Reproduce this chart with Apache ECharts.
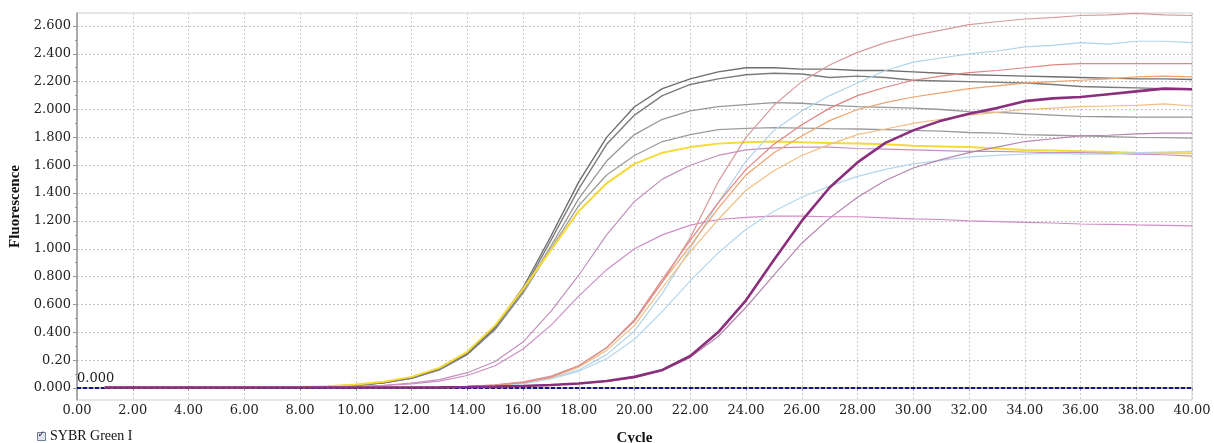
<!DOCTYPE html>
<html>
<head>
<meta charset="utf-8">
<script src="https://cdn.jsdelivr.net/npm/echarts@6/dist/echarts.min.js"></script>
<style>
html, body { margin: 0; padding: 0; background: #fff; }
#chart { width: 1214px; height: 443px; }
</style>
</head>
<body>
<div id="chart"></div>
<script>
// cycles 1..40
var cycles = [];
for (var c = 1; c <= 40; c++) cycles.push(c);

var xTickLabels = ['0.00','2.00','4.00','6.00','8.00','10.00','12.00','14.00','16.00','18.00','20.00',
	'22.00','24.00','26.00','28.00','30.00','32.00','34.00','36.00','38.00','40.00'];
var yTickValues = [0, 0.2, 0.4, 0.6, 0.8, 1.0, 1.2, 1.4, 1.6, 1.8, 2.0, 2.2, 2.4, 2.6];
var yTickLabels = ['0.000','0.20','0.400','0.600','0.800','1.000','1.200','1.400','1.600','1.800','2.000','2.200','2.400','2.600'];
var threshold = 0.000;

// early group
var gray1 = [0.008,0.006,0.006,0.007,0.006,0.006,0.007,0.008,0.012,0.022,0.04,0.075,0.14,0.25,0.44,0.72,1.09,1.48,1.80,2.02,
	2.15,2.22,2.27,2.30,2.30,2.29,2.29,2.28,2.28,2.27,2.26,2.25,2.245,2.24,2.235,2.23,2.225,2.22,2.22,2.215];
var gray2 = [0.007,0.006,0.006,0.007,0.006,0.006,0.007,0.008,0.011,0.02,0.038,0.072,0.135,0.245,0.43,0.70,1.06,1.43,1.75,1.96,
	2.10,2.18,2.22,2.25,2.26,2.255,2.23,2.24,2.23,2.21,2.205,2.20,2.195,2.19,2.18,2.165,2.16,2.155,2.15,2.143];
var gray3 = [0.007,0.006,0.006,0.006,0.006,0.006,0.007,0.008,0.011,0.02,0.037,0.07,0.13,0.24,0.42,0.69,1.02,1.36,1.63,1.82,
	1.93,1.99,2.02,2.035,2.05,2.045,2.03,2.02,2.015,2.01,2.0,1.985,1.98,1.97,1.96,1.95,1.948,1.946,1.946,1.945];
var gray4 = [0.007,0.006,0.006,0.006,0.006,0.006,0.007,0.008,0.011,0.02,0.037,0.07,0.13,0.24,0.42,0.68,1.00,1.31,1.53,1.67,
	1.77,1.82,1.855,1.865,1.87,1.866,1.862,1.86,1.855,1.85,1.845,1.835,1.83,1.82,1.815,1.81,1.805,1.80,1.798,1.795];
var yellow = [0.008,0.006,0.006,0.007,0.006,0.006,0.007,0.008,0.012,0.025,0.045,0.08,0.145,0.26,0.45,0.71,0.99,1.27,1.47,1.61,
	1.69,1.73,1.755,1.765,1.77,1.765,1.76,1.755,1.75,1.74,1.735,1.73,1.72,1.71,1.705,1.70,1.695,1.69,1.688,1.685];
// second group
var mauveUpper = [0.005,0.005,0.005,0.005,0.005,0.005,0.005,0.006,0.008,0.012,0.02,0.035,0.06,0.11,0.19,0.33,0.55,0.81,1.10,1.34,
	1.50,1.60,1.67,1.71,1.725,1.73,1.73,1.72,1.715,1.71,1.705,1.70,1.70,1.695,1.69,1.69,1.685,1.68,1.675,1.665];
var mauveLower = [0.005,0.005,0.005,0.005,0.005,0.005,0.005,0.006,0.007,0.01,0.018,0.03,0.05,0.09,0.16,0.28,0.45,0.66,0.85,1.00,
	1.10,1.17,1.21,1.225,1.235,1.235,1.23,1.23,1.222,1.214,1.21,1.20,1.195,1.19,1.185,1.178,1.175,1.171,1.168,1.164];
// third group
var rose = [0.004,0.004,0.004,0.004,0.004,0.004,0.004,0.004,0.004,0.004,0.004,0.005,0.006,0.012,0.022,0.045,0.085,0.16,0.29,0.48,
	0.76,1.08,1.48,1.80,2.03,2.20,2.32,2.41,2.48,2.53,2.57,2.61,2.63,2.65,2.66,2.675,2.68,2.69,2.68,2.675];
var blueUpper = [0.004,0.004,0.004,0.004,0.004,0.004,0.004,0.004,0.004,0.004,0.004,0.005,0.006,0.01,0.02,0.035,0.07,0.13,0.24,0.41,
	0.68,1.00,1.33,1.63,1.85,1.99,2.10,2.19,2.28,2.34,2.37,2.40,2.42,2.45,2.46,2.48,2.47,2.49,2.49,2.48];
var pinkRed = [0.004,0.004,0.004,0.004,0.004,0.004,0.004,0.004,0.004,0.004,0.004,0.005,0.006,0.011,0.021,0.04,0.08,0.16,0.29,0.49,
	0.78,1.06,1.33,1.57,1.75,1.89,2.01,2.10,2.16,2.21,2.24,2.265,2.28,2.30,2.32,2.33,2.33,2.33,2.33,2.33];
var orange = [0.004,0.004,0.004,0.004,0.004,0.004,0.004,0.004,0.004,0.004,0.004,0.005,0.006,0.011,0.021,0.04,0.08,0.16,0.29,0.48,
	0.76,1.02,1.29,1.53,1.69,1.81,1.92,2.00,2.05,2.09,2.12,2.15,2.17,2.19,2.20,2.21,2.22,2.235,2.24,2.235];
var orangeLight = [0.004,0.004,0.004,0.004,0.004,0.004,0.004,0.004,0.004,0.004,0.004,0.005,0.006,0.01,0.02,0.038,0.075,0.15,0.27,0.45,
	0.72,0.98,1.21,1.42,1.56,1.67,1.75,1.82,1.86,1.90,1.93,1.96,1.98,2.00,2.01,2.02,2.025,2.03,2.04,2.025];
var blueLower = [0.004,0.004,0.004,0.004,0.004,0.004,0.004,0.004,0.004,0.004,0.004,0.005,0.006,0.009,0.017,0.03,0.065,0.12,0.21,0.35,
	0.55,0.77,0.97,1.14,1.27,1.37,1.45,1.52,1.57,1.61,1.635,1.66,1.67,1.68,1.685,1.68,1.68,1.69,1.695,1.70];
// late group
var purpleThick = [0.004,0.004,0.004,0.004,0.004,0.004,0.004,0.004,0.004,0.004,0.004,0.004,0.005,0.007,0.01,0.015,0.022,0.033,0.05,0.08,
	0.13,0.23,0.40,0.63,0.92,1.20,1.44,1.62,1.76,1.85,1.92,1.97,2.01,2.06,2.08,2.09,2.11,2.13,2.15,2.145];
var mauveThin = [0.004,0.004,0.004,0.004,0.004,0.004,0.004,0.004,0.004,0.004,0.004,0.004,0.005,0.007,0.01,0.015,0.022,0.032,0.048,0.075,
	0.125,0.22,0.37,0.58,0.81,1.04,1.22,1.37,1.49,1.58,1.64,1.69,1.73,1.77,1.79,1.81,1.815,1.825,1.83,1.83];

var curves = [
	{ name: 'gray4', data: gray4, color: '#9c9c9c', width: 1.3 },
	{ name: 'gray3', data: gray3, color: '#979797', width: 1.3 },
	{ name: 'gray2', data: gray2, color: '#7c7c7c', width: 1.4 },
	{ name: 'gray1', data: gray1, color: '#6e6e6e', width: 1.4 },
	{ name: 'yellow', data: yellow, color: '#f4da38', width: 2 },
	{ name: 'mauveUpper', data: mauveUpper, color: '#c48fbd', width: 1.2 },
	{ name: 'mauveLower', data: mauveLower, color: '#cf8cc6', width: 1.2 },
	{ name: 'blueLower', data: blueLower, color: '#b5d6ec', width: 1.2 },
	{ name: 'blueUpper', data: blueUpper, color: '#b0d3ea', width: 1.2 },
	{ name: 'orangeLight', data: orangeLight, color: '#f2be82', width: 1.2 },
	{ name: 'orange', data: orange, color: '#eea36e', width: 1.2 },
	{ name: 'pinkRed', data: pinkRed, color: '#e08580', width: 1.2 },
	{ name: 'rose', data: rose, color: '#d99a9e', width: 1.2 },
	{ name: 'mauveThin', data: mauveThin, color: '#b683b0', width: 1.2 },
	{ name: 'purpleThick', data: purpleThick, color: '#8a2f7c', width: 2.6 }
];

var labelFont = { fontFamily: 'DejaVu Serif', fontSize: 13, color: '#222' };
var nameFont = { fontFamily: 'Liberation Serif', fontSize: 15, fontWeight: 'bold', color: '#111' };

var series = [];
for (var i = 0; i < curves.length; i++) {
	var pts = [];
	for (var j = 0; j < cycles.length; j++) pts.push([cycles[j], curves[i].data[j]]);
	series.push({
		name: curves[i].name,
		type: 'line',
		data: pts,
		showSymbol: false,
		symbol: 'none',
		lineStyle: { color: curves[i].color, width: curves[i].width },
		z: 3 + i
	});
}
// threshold line
series.push({
	name: 'threshold',
	type: 'line',
	data: [],
	z: 30,
	markLine: {
		silent: true,
		symbol: 'none',
		animation: false,
		lineStyle: { color: '#14148a', type: [4, 2], width: 2 },
		label: {
			show: true,
			position: 'insideStartTop',
			formatter: threshold.toFixed(3),
			fontFamily: 'DejaVu Serif', fontSize: 13, color: '#222',
			distance: [0, 3]
		},
		data: [{ yAxis: threshold }]
	}
});

var minorTicks = [];
for (var k = 0; k < yTickValues.length; k++) minorTicks.push(+(yTickValues[k] + 0.1).toFixed(1));

var option = {
	animation: false,
	backgroundColor: '#fff',
	grid: {
		left: 77, right: 22, top: 13, bottom: 43,
		outerBoundsMode: 'none',
		containLabel: false,
		show: true, borderColor: '#cfcfcf', borderWidth: 1
	},
	xAxis: {
		type: 'value',
		min: 0, max: 40, interval: 2,
		name: 'Cycle',
		nameLocation: 'middle',
		nameGap: 31,
		nameTextStyle: nameFont,
		axisLine: { show: true, lineStyle: { color: '#999', width: 1.5 } },
		axisTick: { show: true, length: 3, lineStyle: { color: '#999' } },
		axisLabel: Object.assign({
			margin: 4,
			formatter: function (v) { return xTickLabels[Math.round(v / 2)]; }
		}, labelFont),
		splitLine: { show: true, lineStyle: { color: '#cdcdcd', type: [2, 2], width: 1 } }
	},
	yAxis: [{
		type: 'value',
		min: -0.086, max: 2.693,
		name: 'Fluorescence',
		nameLocation: 'middle',
		nameGap: 49,
		nameRotate: 90,
		nameTextStyle: nameFont,
		axisLine: { show: true, lineStyle: { color: '#999', width: 1.5 } },
		axisTick: { show: true, length: 4, customValues: yTickValues, lineStyle: { color: '#999' } },
		axisLabel: Object.assign({
			margin: 6,
			customValues: yTickValues,
			formatter: function (v) {
				for (var n = 0; n < yTickValues.length; n++) {
					if (Math.abs(yTickValues[n] - v) < 1e-6) return yTickLabels[n];
				}
				return '';
			}
		}, labelFont),
		splitLine: { show: true, lineStyle: { color: '#c4c4c4', type: [2, 2], width: 1 } }
	}, {
		type: 'value',
		min: -0.086, max: 2.693,
		position: 'left',
		axisLine: { show: false },
		axisLabel: { show: false },
		splitLine: { show: false },
		axisTick: { show: true, length: 2, customValues: minorTicks, lineStyle: { color: '#999' } }
	}],
	graphic: [
		{ type: 'rect', left: 37, top: 432, shape: { width: 8, height: 8 },
			style: { fill: '#dfe6f0', stroke: '#6f7f99', lineWidth: 1 } },
		{ type: 'text', left: 37.5, top: 430, style: { text: '✓', fontFamily: 'DejaVu Sans', fontSize: 9, fontWeight: 'bold', fill: '#223' } },
		{ type: 'text', left: 50, top: 429, style: { text: 'SYBR Green I', fontFamily: 'Liberation Serif', fontSize: 14, fill: '#111' } }
	],
	series: series
};

var chart = echarts.init(document.getElementById('chart'));
chart.setOption(option);
</script>
</body>
</html>
